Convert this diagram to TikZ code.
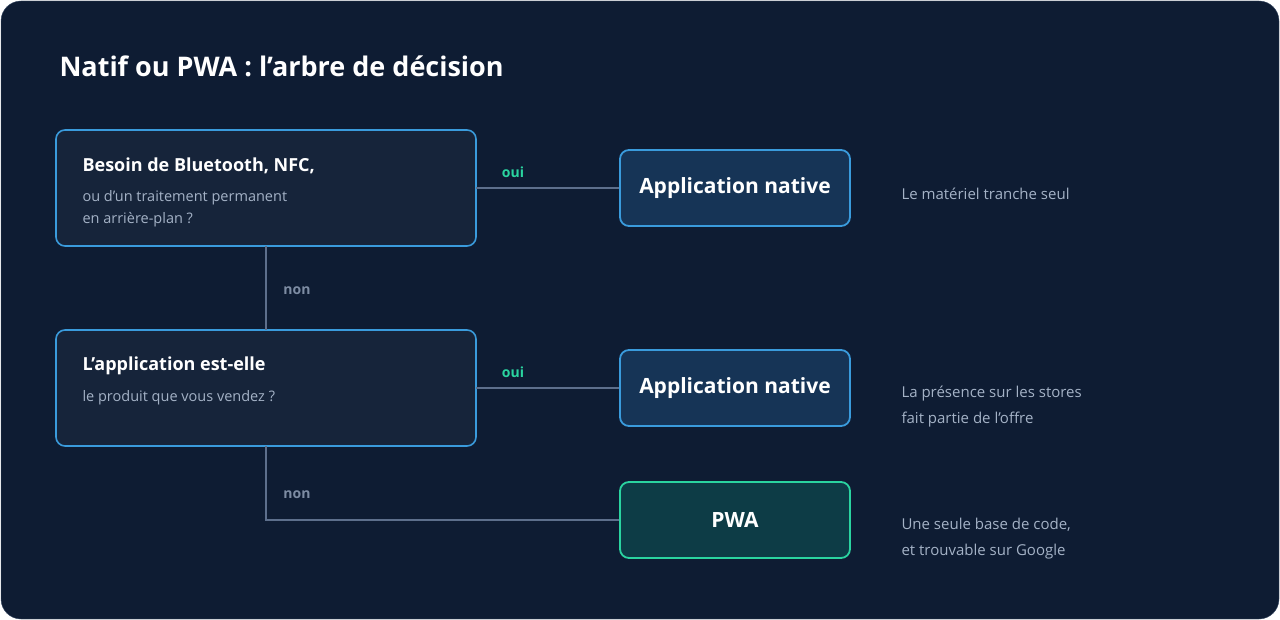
\documentclass[tikz,border=0pt]{standalone}
\usepackage{fontspec}
\setmainfont{Open Sans}
\definecolor{bg}{HTML}{0E1C33}
\definecolor{qfill}{HTML}{16243A}
\definecolor{qstroke}{HTML}{3A9BDC}
\definecolor{nfill}{HTML}{163456}
\definecolor{pfill}{HTML}{0D3C46}
\definecolor{pstroke}{HTML}{2AD4A0}
\definecolor{ln}{HTML}{5D6F8C}
\definecolor{sub}{HTML}{A4B2C6}
\definecolor{green}{HTML}{2AD4A0}
\begin{document}
\begin{tikzpicture}[x=1pt,y=-1pt,
  q/.style={draw=qstroke,fill=qfill,line width=1.6pt,rounded corners=9pt},
  nat/.style={draw=qstroke,fill=nfill,line width=1.8pt,rounded corners=9pt,minimum width=230pt,minimum height=76pt,text=white,font=\bfseries\fontsize{21}{24}\selectfont},
  pwa/.style={nat,draw=pstroke,fill=pfill},
  conn/.style={draw=ln,line width=1.6pt},
  yes/.style={text=green,font=\bfseries\fontsize{14}{16}\selectfont},
  no/.style={text=ln!80!white,font=\bfseries\fontsize{14}{16}\selectfont},
  side/.style={text=sub,anchor=west,font=\fontsize{15}{26}\selectfont,align=left},
  qt/.style={anchor=west,text=white,font=\bfseries\fontsize{18}{22}\selectfont},
  qs/.style={anchor=west,text=sub,font=\fontsize{14.5}{22}\selectfont,align=left}]
\fill[white] (0,0) rectangle (1280,620);
\fill[bg,draw=ln!60!bg] (1,1) [rounded corners=20pt] rectangle (1279,619);
\node[anchor=west,text=white,font=\bfseries\fontsize{27}{32}\selectfont] (title) at (56,66) {Natif ou PWA : l’arbre de décision};
\draw[q] (56,130) rectangle (476,246);
\coordinate (q1r) at (476,188); \coordinate (q1b) at (266,246);
\node[qt] (q1t) at (79,166) {Besoin de Bluetooth, NFC,};
\node[qs] (q1s) at (79,209) {ou d’un traitement permanent\\en arrière-plan ?};
\draw[q] (56,330) rectangle (476,446);
\coordinate (q2r) at (476,388); \coordinate (q2t) at (266,330); \coordinate (q2b) at (266,446);
\node[qt] (q2tt) at (79,366) {L’application est-elle};
\node[qs] (q2s) at (79,398) {le produit que vous vendez ?};
\node[nat] (n1) at (735,188) {Application native};
\node[nat] (n2) at (735,388) {Application native};
\node[pwa] (p) at (735,520) {PWA};
\draw[conn] (q1r) -- (n1.west);
\draw[conn] (q2r) -- (n2.west);
\draw[conn] (q1b) -- (q2t);
\draw[conn] (q2b) |- (p.west);
\node[yes] (y1) at (513,172) {oui};
\node[yes] (y2) at (513,372) {oui};
\node[no] (no1) at (297,291) {non};
\node[no] (no2) at (297,495) {non};
\node[side] (s1) at (898,194) {Le matériel tranche seul};
\node[side] (s2) at (898,407) {La présence sur les stores\\fait partie de l’offre};
\node[side] (s3) at (898,539) {Une seule base de code,\\et trouvable sur Google};
\end{tikzpicture}
\end{document}
